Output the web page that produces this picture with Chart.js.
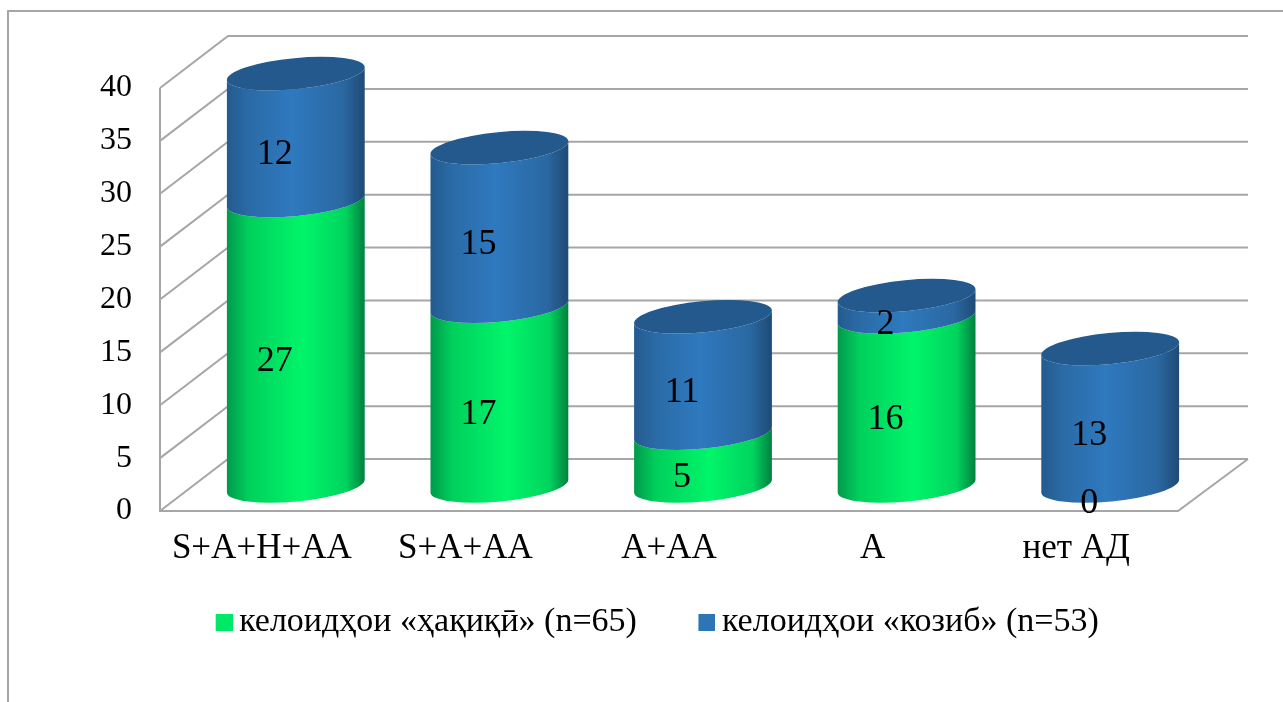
<!DOCTYPE html>
<html lang="en">
<head>
<meta charset="UTF-8">
<title>Келоидҳо</title>
<script src="https://cdn.jsdelivr.net/npm/chart.js"></script>
<style>
    html, body { margin: 0; padding: 0; background: #fff; overflow: hidden; }
    .frame { position: absolute; left: 7px; top: 10px; right: 0; bottom: 0; border-left: 2px solid #a6a6a6; border-top: 2px solid #a6a6a6; }
    canvas { position: absolute; left: 0; top: 0; }
</style>
</head>
<body>
<div class="frame"></div>
<canvas id="chart" width="1283" height="702"></canvas>

<script>
const categories = ['S+A+H+AA', 'S+A+AA', 'A+AA', 'A', 'нет АД'];
const trueKeloids = [27, 17, 5, 16, 0];
const falseKeloids = [12, 15, 11, 2, 13];
const trueLabel = 'келоидҳои «ҳақиқӣ» (n=65)';
const falseLabel = 'келоидҳои «козиб» (n=53)';

const FONT = '"Liberation Serif", "Times New Roman", serif';
const GRID = '#a6a6a6';
// how far the back wall sits from the front plane of the axes
const DEPTH_X = 68, DEPTH_Y = 52;
const TILT = -5.5 * Math.PI / 180;
const RY = 15.5;

const SHADES = [
    { side: [[0, '#00994a'], [0.16, '#00d05c'], [0.55, '#00f56a'], [0.86, '#00d45e'], [1, '#007f3f']] },
    { side: [[0, '#245a8e'], [0.16, '#2a6ba6'], [0.47, '#2f79bf'], [0.84, '#2a68a2'], [1, '#1f4a75']], top: '#23598c' }
];

// legend marker: the stock legend leaves too wide a gap before the text,
// so the square is pushed to the right side of a wider transparent sprite
function marker(color) {
    const c = document.createElement('canvas');
    c.width = 22;
    c.height = 17;
    const g = c.getContext('2d');
    g.fillStyle = color;
    g.fillRect(5, 0, 17, 17);
    return c;
}

function drawGrid(ctx, chart) {
    const { left, right } = chart.chartArea;
    const y = chart.scales.y;
    ctx.save();
    ctx.strokeStyle = GRID;
    ctx.lineWidth = 2;
    ctx.beginPath();
    y.ticks.forEach(t => {
        const py = y.getPixelForValue(t.value);
        ctx.moveTo(left, py);
        ctx.lineTo(left + DEPTH_X, py - DEPTH_Y);
        ctx.lineTo(right + DEPTH_X + 2, py - DEPTH_Y);
    });
    // front wall edge and floor
    const y0 = y.getPixelForValue(0);
    ctx.moveTo(left, y.getPixelForValue(y.max));
    ctx.lineTo(left, y0);
    ctx.lineTo(right, y0);
    ctx.lineTo(right + DEPTH_X + 2, y0 - DEPTH_Y);
    ctx.stroke();
    ctx.restore();
}

function drawSegment(ctx, bar, shade, isTop) {
    const cx = bar.x + DEPTH_X / 2;
    const rx = bar.width / 2;
    const yBase = bar.base - DEPTH_Y / 2 + 1;
    const yTop = bar.y - DEPTH_Y / 2 + 1;
    const grad = ctx.createLinearGradient(cx - rx, 0, cx + rx, 0);
    shade.side.forEach(([at, c]) => grad.addColorStop(at, c));
    ctx.fillStyle = grad;
    ctx.beginPath();
    ctx.ellipse(cx, yBase, rx, RY, TILT, Math.PI, 0, true);
    ctx.ellipse(cx, yTop, rx, RY, TILT, 0, Math.PI, false);
    ctx.closePath();
    ctx.fill();
    if (isTop) {
        ctx.fillStyle = shade.top;
        ctx.beginPath();
        ctx.ellipse(cx, yTop, rx, RY, TILT, 0, Math.PI * 2);
        ctx.fill();
    }
}

const cylinders = {
    id: 'cylinders',
    afterLayout(chart) {
        // legend is centred a little off the plot, and rides up close to the axis labels
        const legend = chart.legend;
        legend.left += 26;
        legend.right += 26;
        legend.top -= 33;
        legend.bottom -= 33;
    },
    beforeDatasetsDraw(chart) {
        const ctx = chart.ctx;
        drawGrid(ctx, chart);
        const metas = chart.data.datasets.map((d, i) => chart.getDatasetMeta(i));
        categories.forEach((name, i) => {
            metas.forEach((meta, k) => {
                if (chart.data.datasets[k].data[i] === 0) return;
                drawSegment(ctx, meta.data[i], SHADES[k], k === metas.length - 1);
            });
        });
        // value labels sit in front of the cylinders
        ctx.save();
        ctx.font = '36px ' + FONT;
        ctx.fillStyle = '#000';
        ctx.textAlign = 'center';
        ctx.textBaseline = 'middle';
        metas.forEach((meta, k) => {
            meta.data.forEach((bar, i) => {
                ctx.fillText(chart.data.datasets[k].data[i], bar.x + 13, (bar.y + bar.base) / 2 - 7);
            });
        });
        ctx.restore();
        return false; // stock flat bars stay undrawn
    }
};

new Chart(document.getElementById('chart'), {
    type: 'bar',
    data: {
        labels: categories,
        datasets: [
            { label: trueLabel, data: trueKeloids, backgroundColor: '#00e868', pointStyle: marker('#00e868') },
            { label: falseLabel, data: falseKeloids, backgroundColor: '#2e75b6', pointStyle: marker('#2e75b6') }
        ]
    },
    plugins: [cylinders],
    options: {
        responsive: false,
        animation: false,
        layout: { padding: { left: 90, right: 105, top: 88, bottom: 20 } },
        datasets: { bar: { barPercentage: 1, categoryPercentage: 0.68 } },
        scales: {
            x: {
                stacked: true,
                grid: { display: false },
                border: { display: false },
                ticks: { color: '#000', font: { family: FONT, size: 35 }, padding: 9, maxRotation: 0, autoSkip: false },
                afterFit(scale) { scale.height = 60; }
            },
            y: {
                stacked: true,
                min: 0,
                max: 40,
                grid: { display: false },
                border: { display: false },
                ticks: { stepSize: 5, color: '#000', font: { family: FONT, size: 32 }, padding: 20 },
                afterFit(scale) { scale.width = 70; }
            }
        },
        plugins: {
            tooltip: { enabled: false },
            legend: {
                position: 'bottom',
                labels: {
                    color: '#000',
                    font: { family: FONT, size: 34 },
                    usePointStyle: true,
                    pointStyleWidth: 1,
                    padding: 67,
                    generateLabels(chart) {
                        return chart.data.datasets.map((d, i) => ({
                            text: d.label,
                            pointStyle: d.pointStyle,
                            datasetIndex: i,
                            fontColor: '#000',
                            lineWidth: 0
                        }));
                    }
                }
            }
        }
    }
});
</script>
</body>
</html>
